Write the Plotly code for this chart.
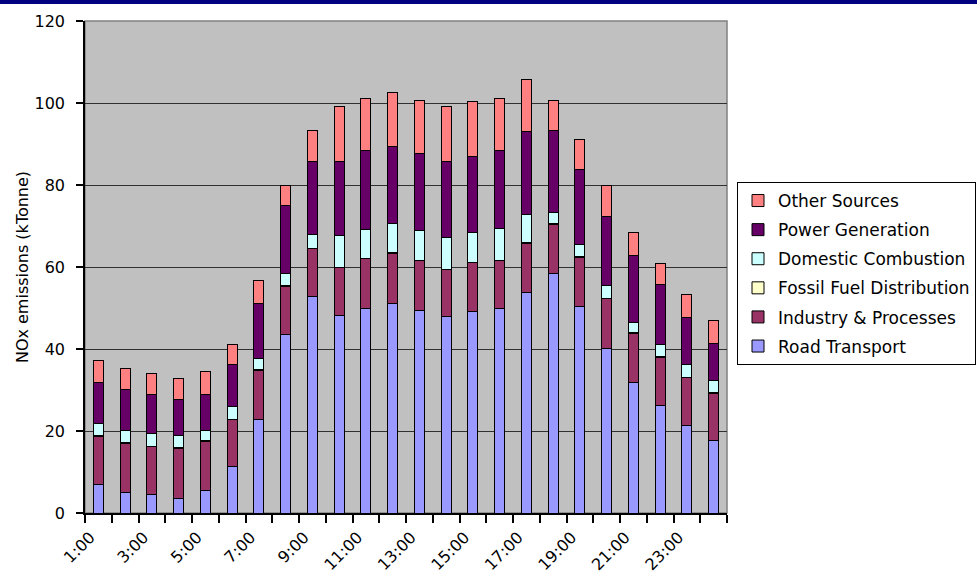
import plotly.graph_objects as go

hours = [1, 2, 3, 4, 5, 6, 7, 8, 9, 10, 11, 12, 13, 14, 15, 16, 17, 18, 19, 20, 21, 22, 23, 24]
hour_labels = [f"{h}:00" for h in hours]

road_transport = [6.9, 4.9, 4.5, 3.6, 5.4, 11.3, 22.9, 43.5, 52.8, 48.2, 49.9, 51.1,
                  49.5, 47.9, 49.1, 49.9, 53.7, 58.3, 50.3, 40.2, 31.8, 26.3, 21.3, 17.6]
industry = [11.8, 12.1, 11.7, 12.2, 12.1, 11.5, 11.9, 11.8, 11.7, 11.6, 12.1, 12.2,
            12.1, 11.5, 11.9, 11.7, 12.1, 12.1, 12.1, 12.1, 12.0, 11.7, 11.7, 11.6]
fossil_fuel = [0.1, 0.1, 0.1, 0.1, 0.1, 0.1, 0.1, 0.1, 0.1, 0.1, 0.1, 0.2,
               0.1, 0.1, 0.1, 0.1, 0.1, 0.1, 0.1, 0.1, 0.2, 0.1, 0.1, 0.1]
domestic = [3.1, 3.1, 3.0, 2.9, 2.5, 3.0, 2.8, 2.9, 3.4, 7.7, 7.1, 7.0,
            7.1, 7.7, 7.4, 7.6, 7.0, 2.8, 3.0, 3.0, 2.5, 3.0, 3.0, 3.0]
power = [10.0, 10.0, 9.6, 8.8, 8.9, 10.2, 13.4, 16.6, 17.7, 18.1, 19.1, 18.8,
         18.9, 18.5, 18.4, 19.0, 20.1, 20.1, 18.2, 16.9, 16.4, 14.7, 11.6, 9.1]
other = [5.4, 5.1, 5.2, 5.2, 5.5, 5.0, 5.6, 5.1, 7.6, 13.4, 12.8, 13.2,
         13.0, 13.4, 13.4, 12.8, 12.8, 7.3, 7.4, 7.6, 5.5, 5.1, 5.5, 5.5]

y_ticks = [0, 20, 40, 60, 80, 100, 120]
x_tick_hours = [1, 3, 5, 7, 9, 11, 13, 15, 17, 19, 21, 23]

series = [
    ("Road Transport", road_transport, "#9999FF"),
    ("Industry & Processes", industry, "#993366"),
    ("Fossil Fuel Distribution", fossil_fuel, "#FFFFCC"),
    ("Domestic Combustion", domestic, "#CCFFFF"),
    ("Power Generation", power, "#660066"),
    ("Other Sources", other, "#FF8080"),
]

FONT = "DejaVu Sans"

fig = go.Figure()
n = len(series)
for i, (name, vals, col) in enumerate(series):
    fig.add_trace(go.Bar(
        x=hours, y=vals, name=name, width=0.38, legendgroup=name,
        legendrank=n - i,
        marker=dict(color=col, line=dict(color="black", width=1)),
    ))

fig.update_layout(
    barmode="stack",
    width=977, height=574,
    margin=dict(l=85, r=250, t=21, b=61, autoexpand=False),
    paper_bgcolor="white",
    plot_bgcolor="#C0C0C0",
    font=dict(family=FONT, size=16, color="black"),
    showlegend=True,
    legend=dict(
        x=1.0156, y=0.6728, xanchor="left", yanchor="top",
        traceorder="grouped", tracegroupgap=4,
        bgcolor="white", bordercolor="black", borderwidth=1,
        font=dict(family=FONT, size=17, color="black"),
        itemwidth=30,
    ),
    shapes=[
        dict(type="rect", xref="paper", yref="paper", x0=-0.14, x1=1.4,
             y0=1.0346, y1=1.06, fillcolor="#000080", line=dict(width=0), layer="above"),
        dict(type="rect", xref="paper", yref="paper", x0=0, x1=1, y0=0, y1=1,
             line=dict(color="#808080", width=1.5), fillcolor="rgba(0,0,0,0)", layer="below"),
    ],
)

fig.update_xaxes(
    range=[0.5, 24.5],
    tickmode="array", tickvals=x_tick_hours,
    ticktext=[hour_labels[h - 1] for h in x_tick_hours],
    tickangle=-45, ticks="", showgrid=False, zeroline=False,
    showline=True, linecolor="black", linewidth=1.5,
    tickfont=dict(family=FONT, size=16),
    ticklabelstandoff=7, ticklabelshift=-8,
    minor=dict(ticks="outside", ticklen=8, tickcolor="black", tickwidth=1.5,
               tick0=0.5, dtick=1, showgrid=False),
    automargin=False,
)

fig.update_yaxes(
    range=[0, 120], tickmode="array", tickvals=y_ticks,
    ticks="outside", ticklen=7, tickcolor="black", tickwidth=1.5,
    showline=True, linecolor="black", linewidth=1.5,
    showgrid=True, gridcolor="#303030", gridwidth=1, zeroline=False,
    tickfont=dict(family=FONT, size=16),
    ticklabelstandoff=8,
    title=dict(text="NOx emissions (kTonne)", font=dict(family=FONT, size=16), standoff=2),
    automargin=False,
)

fig.write_html("out.html", config={"displayModeBar": False},
               post_script="document.body.style.margin='0';document.body.style.overflow='hidden';")
